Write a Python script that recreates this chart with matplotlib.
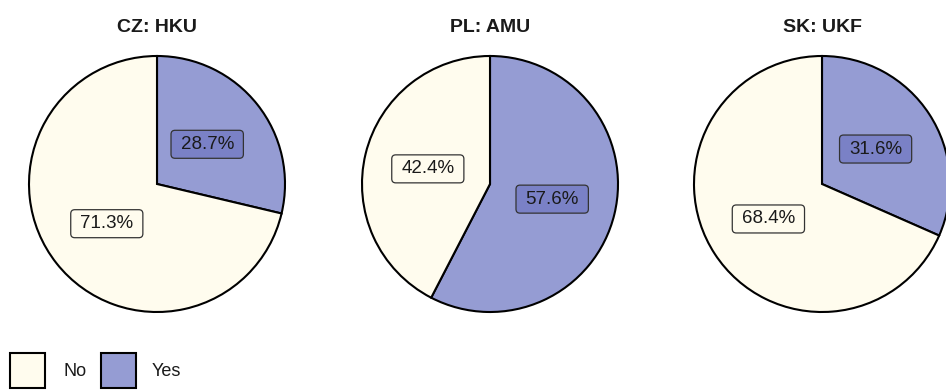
import matplotlib
matplotlib.use("Agg")
import matplotlib.pyplot as plt
from matplotlib.patches import Rectangle, FancyBboxPatch

plt.rcParams['font.family'] = ['Liberation Sans', 'DejaVu Sans']

# Survey answers per site (share of respondents, %)
sites = ["CZ: HKU", "PL: AMU", "SK: UKF"]
answers = ["Yes", "No"]
yes_pct = [28.7, 57.6, 31.6]
no_pct = [71.3, 42.4, 68.4]

colors = {"Yes": "#959cd3", "No": "#fffcee"}
label_fill = {"Yes": "#7a81c6", "No": "#fffcee"}

W, H = 946, 390
fig = plt.figure(figsize=(W / 100, H / 100), dpi=100)
ax = fig.add_axes([0, 0, 1, 1])

centers_x = [157, 490, 822]
center_y = H - 184
radius = 128

labels = []
for i, site in enumerate(sites):
    vals = [yes_pct[i], no_pct[i]]
    wedges, texts, autotexts = ax.pie(
        vals,
        colors=[colors[a] for a in answers],
        startangle=90,
        counterclock=False,
        center=(centers_x[i], center_y),
        radius=radius,
        autopct=lambda p: f"{p:.1f}%",
        pctdistance=0.5,
        wedgeprops=dict(edgecolor="black", linewidth=1.5),
        textprops=dict(fontsize=13.5, color="#1a1a1a", zorder=5),
    )
    for a, t in zip(answers, autotexts):
        labels.append((a, t))
    ax.text(centers_x[i], H - 28, site, ha="center", va="center",
            fontsize=14, fontweight="bold", color="#1a1a1a")

# Legend keys along the bottom edge
legend_items = [("No", 10, 63), ("Yes", 101, 152)]
for name, bx, tx in legend_items:
    ax.add_patch(Rectangle((bx, 2), 35, 35, facecolor=colors[name],
                           edgecolor="black", linewidth=1.5))
    ax.text(tx, H - 371, name, ha="left", va="center", fontsize=13,
            color="#1a1a1a")

ax.set_xlim(0, W)
ax.set_ylim(0, H)
ax.set_aspect("auto")
ax.axis("off")

# Rounded label boxes sized around the rendered percentage text
fig.canvas.draw()
renderer = fig.canvas.get_renderer()
inv = ax.transData.inverted()
pad_x, box_h = 9.5, 28
for a, t in labels:
    ext = t.get_window_extent(renderer).transformed(inv)
    cx, cy = t.get_position()
    w = ext.width + 2 * pad_x
    ax.add_patch(FancyBboxPatch((cx - w / 2, cy - box_h / 2), w, box_h,
                                boxstyle="round,pad=0,rounding_size=4",
                                facecolor=label_fill[a], edgecolor="#333333",
                                linewidth=0.9, zorder=4))

fig.savefig("out.png", dpi=100)
